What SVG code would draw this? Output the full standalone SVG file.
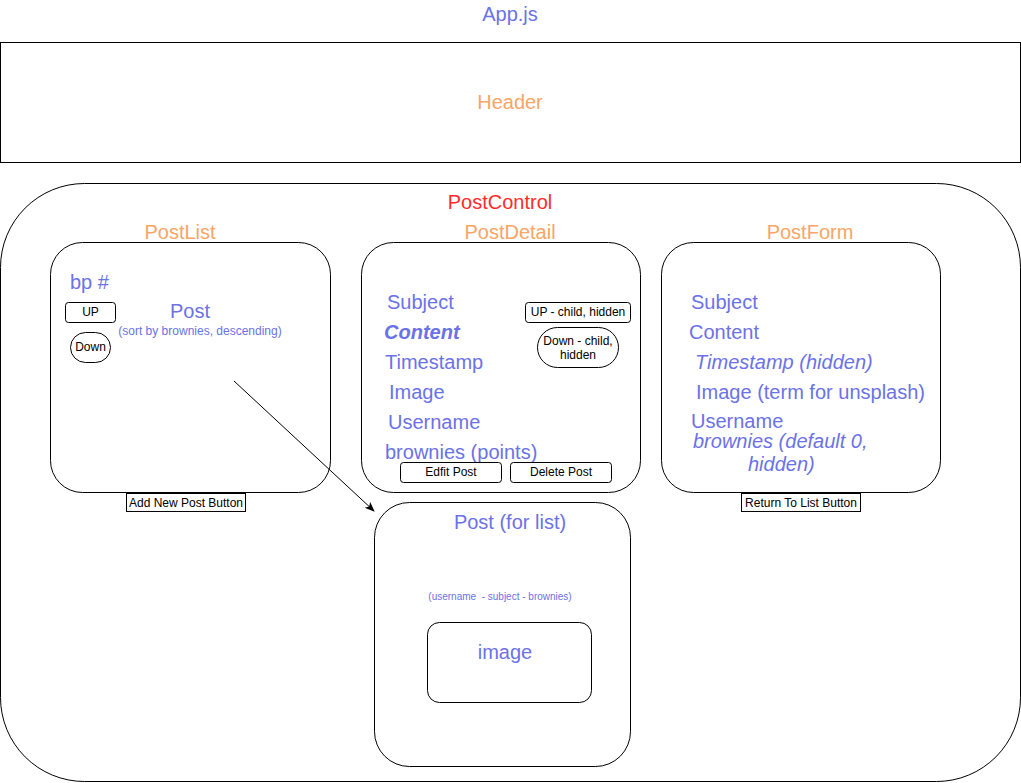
<svg xmlns="http://www.w3.org/2000/svg" width="1021" height="783" viewBox="0 0 1021 783">
<defs>
<style>
.box{fill:#fff;stroke:#000;stroke-width:1}
.t{font-family:"Liberation Sans",Arial,sans-serif}
.blue{fill:#6B72E8}
.orange{fill:#F9A566}
.red{fill:#FF2B2B}
.big{font-size:20px}
.btn{font-size:12px;fill:#000}
.c{text-anchor:middle}
</style>
<marker id="arr" viewBox="0 0 10 10" refX="9" refY="5" markerWidth="10" markerHeight="10" markerUnits="userSpaceOnUse" orient="auto">
<path d="M0,1 L10,5 L0,9 L2.5,5 Z" fill="#000"/>
</marker>
</defs>
<rect width="1021" height="783" fill="#fff"/>
<g id="app">
<text class="t big blue c" x="510" y="21">App.js</text>
</g>
<g id="header">
<rect class="box" x="0.5" y="42.5" width="1020" height="120"/>
<text class="t big orange c" x="510" y="109">Header</text>
</g>
<g id="postcontrol">
<rect class="box" x="0.5" y="183.5" width="1020" height="598" rx="84" ry="84"/>
<text class="t big red c" x="500" y="209">PostControl</text>
</g>
<g id="postlist">
<text class="t big orange c" x="180" y="239">PostList</text>
<rect class="box" x="50.5" y="242.5" width="280" height="250" rx="32" ry="32"/>
<text class="t big blue" x="70" y="289">bp #</text>
<text class="t big blue c" x="190" y="318">Post</text>
<text class="t blue c" x="200" y="335" font-size="12">(sort by brownies, descending)</text>
<g id="btn-up"><rect class="box" x="65.5" y="302.5" width="50" height="20" rx="3"/><text class="t btn c" x="90.5" y="316">UP</text></g>
<g id="btn-down"><rect class="box" x="70.5" y="332.5" width="40" height="30" rx="15"/><text class="t btn c" x="90.5" y="351">Down</text></g>
</g>
<g id="btn-add">
<rect class="box" x="126.5" y="493.5" width="119" height="18"/>
<text class="t btn c" x="186" y="507">Add New Post Button</text>
</g>
<g id="postdetail">
<text class="t big orange c" x="510" y="239">PostDetail</text>
<rect class="box" x="361.5" y="242.5" width="279" height="250" rx="32" ry="32"/>
<text class="t big blue" x="387" y="309">Subject</text>
<text class="t big blue" x="384" y="339" font-weight="bold" font-style="italic">Content</text>
<text class="t big blue" x="385" y="369">Timestamp</text>
<text class="t big blue" x="389" y="399">Image</text>
<text class="t big blue" x="388" y="429">Username</text>
<text class="t big blue" x="385" y="459">brownies (points)</text>
<g id="btn-up-child"><rect class="box" x="525.5" y="302.5" width="105" height="20" rx="3"/><text class="t btn c" x="578" y="316">UP - child, hidden</text></g>
<g id="btn-down-child"><rect class="box" x="537.5" y="327.5" width="81" height="40" rx="20"/><text class="t btn c" x="578" y="345">Down - child,</text><text class="t btn c" x="578" y="359">hidden</text></g>
<g id="btn-edit"><rect class="box" x="400.5" y="462.5" width="101" height="20" rx="3"/><text class="t btn c" x="451" y="476">Edfit Post</text></g>
<g id="btn-delete"><rect class="box" x="510.5" y="462.5" width="101" height="20" rx="3"/><text class="t btn c" x="561" y="476">Delete Post</text></g>
</g>
<g id="postform">
<text class="t big orange c" x="810" y="239">PostForm</text>
<rect class="box" x="661.5" y="242.5" width="279" height="250" rx="32" ry="32"/>
<text class="t big blue" x="691" y="309">Subject</text>
<text class="t big blue" x="689" y="339">Content</text>
<text class="t big blue" x="695" y="369" font-style="italic">Timestamp (hidden)</text>
<text class="t big blue" x="696" y="399">Image (term for unsplash)</text>
<text class="t big blue" x="691" y="428">Username</text>
<text class="t big blue" x="693" y="448" font-style="italic">brownies (default 0,</text>
<text class="t big blue" x="748" y="471" font-style="italic">hidden)</text>
</g>
<g id="btn-return">
<rect class="box" x="741.5" y="493.5" width="119" height="18"/>
<text class="t btn c" x="801" y="507">Return To List Button</text>
</g>
<g id="post-for-list">
<rect class="box" x="374.5" y="502.5" width="256" height="264" rx="35" ry="35"/>
<text class="t big blue c" x="510" y="529">Post (for list)</text>
<text class="t blue c" x="500" y="600" font-size="10" xml:space="preserve" style="white-space:pre">(username  - subject - brownies)</text>
<g id="image-box"><rect class="box" x="427.5" y="622.5" width="164" height="80" rx="12"/><text class="t big blue c" x="505" y="659">image</text></g>
</g>
<g id="connectors">
<line x1="234" y1="381" x2="374" y2="511" stroke="#000" stroke-width="1" marker-end="url(#arr)"/>
</g>
</svg>
